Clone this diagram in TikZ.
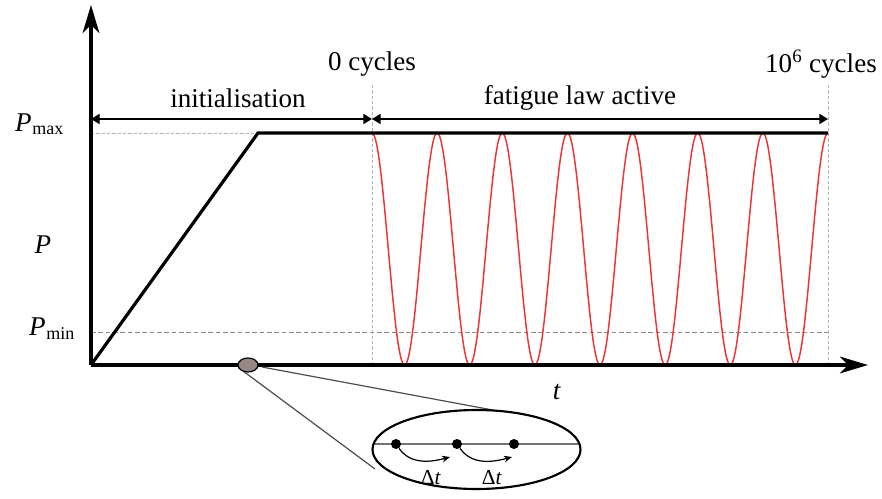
\documentclass[tikz,border=0pt]{standalone}
\usepackage{fontspec}
\setmainfont{Liberation Serif}
\usetikzlibrary{arrows.meta}
\begin{document}
\begin{tikzpicture}[x=0.75pt,y=-0.75pt,
  axis/.style={line width=2.3pt, -{Stealth[length=21pt,width=12.5pt,inset=6pt]}},
  heavy/.style={line width=2.4pt, line join=miter},
  dimarrow/.style={line width=1.5pt, {Triangle[length=6.5pt,width=7.5pt]}-{Triangle[length=6.5pt,width=7.5pt]}},
  guide/.style={color=black!45, line width=0.7pt, dash pattern=on 3.5pt off 2pt},
  guidelight/.style={color=black!30, line width=0.7pt, dash pattern=on 2.5pt off 1.5pt},
  lab/.style={font=\fontsize{20.3}{24}\selectfont, inner sep=0pt},
  sublab/.style={font=\fontsize{13.5}{15}\selectfont, inner sep=0pt},
  small/.style={font=\fontsize{16}{18}\selectfont, inner sep=0pt},
  signal/.style={color={rgb,255:red,240;green,50;blue,50}, line width=1.1pt},
  zoomline/.style={color=black!70, line width=0.9pt},
  dot/.style={circle, fill=black, inner sep=0pt, minimum size=7.5pt},
  step arrow/.style={line width=0.9pt, -{Stealth[length=6pt,width=5pt]}},
]
\useasboundingbox (0,0) rectangle (882,499);
% coordinates
\coordinate (O) at (91,365);
\coordinate (ytop) at (91,5);
\coordinate (xend) at (868,365);
\coordinate (rampTop) at (258,133);
\coordinate (plEnd) at (828,133);
\coordinate (pmaxY) at (91,133);
\coordinate (pminY) at (91,332);
\coordinate (pminE) at (830,332);
\coordinate (v0top) at (372,85);
\coordinate (v0bot) at (372,365);
\coordinate (v1top) at (828,85);
\coordinate (v1bot) at (828,365);
\coordinate (dA) at (91,119);
\coordinate (dB) at (372,119);
\coordinate (dC) at (828,119);
% guides
\draw[guidelight] (pmaxY) -- (rampTop);
\draw[guide] (pminY) -- (pminE);
\draw[guidelight] (v0top) -- (v0bot);
\draw[guidelight] (v1top) -- (v1bot);
% signal
\draw[signal] plot[domain=0:456, samples=400, smooth] ({\x+372}, {249-116*cos(5.52632*\x)});
% load path
\draw[heavy] (O) -- (rampTop) -- (plEnd);
% axes
\draw[axis] (O) -- (ytop);
\draw[axis] (O) -- (xend);
% dimension arrows
\draw[dimarrow] (dA) -- (dB);
\draw[dimarrow] (dB) -- (dC);
% labels
\node[lab] (init) at (238,98) {initialisation};
\node[lab] (fat) at (580,98) {fatigue law active};
\node[lab] (c0) at (372,64) {0 cycles};
\node[lab] (c6) at (821,64) {10\textsuperscript{6} cycles};
\node[lab, anchor=east] (Pmax) at (32,123) {\textit{P}};
\node[sublab, anchor=west] (Pmaxs) at (32,130) {max};
\node[lab] (P) at (43,245) {\textit{P}};
\node[lab, anchor=east] (Pmin) at (46,327) {\textit{P}};
\node[sublab, anchor=west] (Pmins) at (46,334) {min};
\node[lab] (t) at (557,392) {\textit{t}};
% zoom detail
\draw[zoomline] (262,367) -- (498,411);
\draw[zoomline] (243,371) -- (375,469);
\draw[line width=0.9pt, fill={rgb,255:red,150;green,135;blue,135}] (248,365) ellipse [x radius=10, y radius=7];
\draw[line width=1.6pt] (476.5,449.5) ellipse [x radius=104, y radius=39.5];
\draw[color=black!55, line width=1.3pt] (375,444) -- (578,444);
\node[dot] (d1) at (396,444) {};
\node[dot] (d2) at (457,444) {};
\node[dot] (d3) at (514,444) {};
\coordinate (a1) at (450,457);
\coordinate (a2) at (512,457);
\draw[step arrow] (d1) to[out=-55, in=195] (a1);
\draw[step arrow] (d2) to[out=-55, in=195] (a2);
\node[small] (dt1) at (431,478) {Δ\textit{t}};
\node[small] (dt2) at (492,478) {Δ\textit{t}};
\end{tikzpicture}
\end{document}
